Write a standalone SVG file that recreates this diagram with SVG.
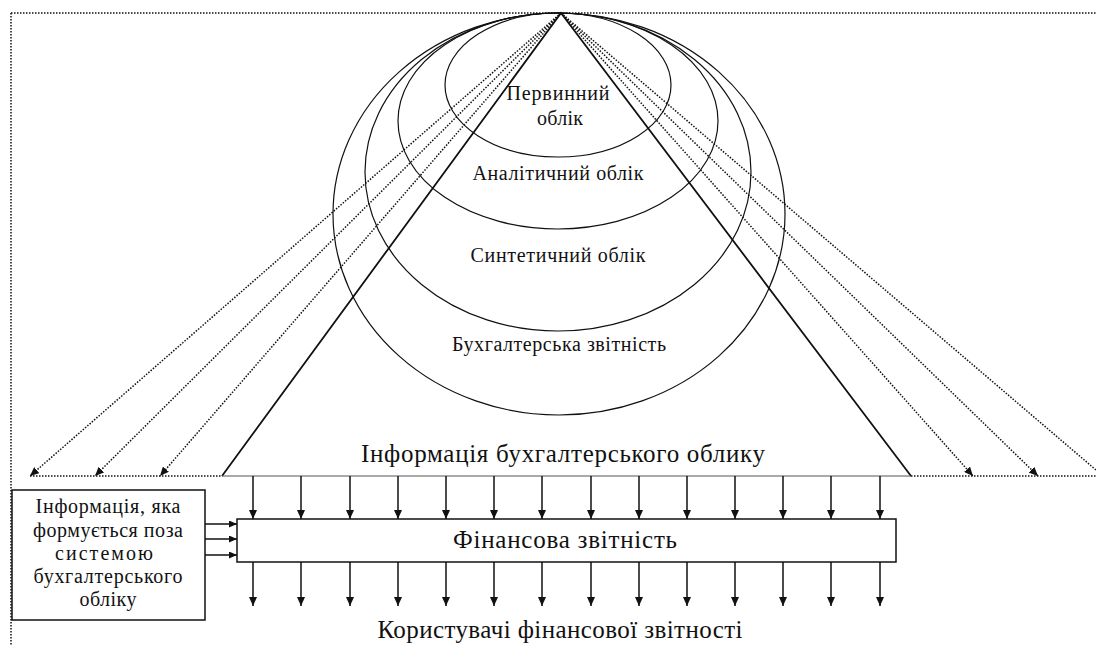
<svg xmlns="http://www.w3.org/2000/svg" width="1096" height="646" viewBox="0 0 1096 646">
<style>
text{font-family:"Liberation Serif","Times New Roman",serif;fill:#111;text-anchor:middle}
.dot{fill:none;stroke:#111;stroke-width:1.5;stroke-dasharray:1.5 1.5}
.sol{fill:none;stroke:#111;stroke-width:1.3}
.ell{fill:none;stroke:#111;stroke-width:1.2}
.ar{fill:none;stroke:#111;stroke-width:1.5}
</style>
<defs>
<marker id="ah" markerUnits="userSpaceOnUse" markerWidth="10" markerHeight="8" refX="9" refY="4" orient="auto" viewBox="0 0 10 8">
<path d="M0,0 L9,4 L0,8 z" fill="#111"/>
</marker>
<marker id="ahs" markerUnits="userSpaceOnUse" markerWidth="9" markerHeight="7" refX="8" refY="3.5" orient="auto" viewBox="0 0 9 7">
<path d="M0,0 L8,3.5 L0,7 z" fill="#111"/>
</marker>
</defs>
<rect width="1096" height="646" fill="#fff"/>
<g id="frame">
<path class="dot" d="M11,13 H1096 M11,13 V646"/>
</g>
<g id="ellipses">
<ellipse id="e4" class="ell" cx="559" cy="214" rx="226" ry="201"/>
<ellipse id="e3" class="ell" cx="558" cy="172" rx="193" ry="159"/>
<ellipse id="e2" class="ell" cx="558" cy="121" rx="160" ry="108"/>
<ellipse id="e1" class="ell" cx="558" cy="85" rx="113" ry="72"/>
</g>
<g id="connectors">
<path class="sol" style="stroke-width:1.8" d="M222,476 L561,13 L911,476"/>
<path class="sol" style="stroke:#555;stroke-width:1.2" d="M222,476 H911"/>
<path class="dot" d="M30,476 H222 M911,476 H1096"/>
<path class="dot" marker-end="url(#ah)" d="M561,13 L30,476"/>
<path class="dot" marker-end="url(#ah)" d="M561,13 L95,476"/>
<path class="dot" marker-end="url(#ah)" d="M561,13 L160,476"/>
<path class="dot" marker-end="url(#ah)" d="M561,13 L973,476"/>
<path class="dot" marker-end="url(#ah)" d="M561,13 L1038,476"/>
<path class="dot" d="M561,13 L1103,476"/>
<g id="down-top" class="ar">
<path marker-end="url(#ah)" d="M253,476 V519"/>
<path marker-end="url(#ah)" d="M301,476 V519"/>
<path marker-end="url(#ah)" d="M350,476 V519"/>
<path marker-end="url(#ah)" d="M398,476 V519"/>
<path marker-end="url(#ah)" d="M446,476 V519"/>
<path marker-end="url(#ah)" d="M494,476 V519"/>
<path marker-end="url(#ah)" d="M542,476 V519"/>
<path marker-end="url(#ah)" d="M591,476 V519"/>
<path marker-end="url(#ah)" d="M639,476 V519"/>
<path marker-end="url(#ah)" d="M687,476 V519"/>
<path marker-end="url(#ah)" d="M735,476 V519"/>
<path marker-end="url(#ah)" d="M783,476 V519"/>
<path marker-end="url(#ah)" d="M831,476 V519"/>
<path marker-end="url(#ah)" d="M880,476 V519"/>
</g>
<g id="down-bottom" class="ar">
<path marker-end="url(#ah)" d="M253,562 V606"/>
<path marker-end="url(#ah)" d="M301,562 V606"/>
<path marker-end="url(#ah)" d="M350,562 V606"/>
<path marker-end="url(#ah)" d="M398,562 V606"/>
<path marker-end="url(#ah)" d="M446,562 V606"/>
<path marker-end="url(#ah)" d="M494,562 V606"/>
<path marker-end="url(#ah)" d="M542,562 V606"/>
<path marker-end="url(#ah)" d="M591,562 V606"/>
<path marker-end="url(#ah)" d="M639,562 V606"/>
<path marker-end="url(#ah)" d="M687,562 V606"/>
<path marker-end="url(#ah)" d="M735,562 V606"/>
<path marker-end="url(#ah)" d="M783,562 V606"/>
<path marker-end="url(#ah)" d="M831,562 V606"/>
<path marker-end="url(#ah)" d="M880,562 V606"/>
</g>
<g id="side" class="ar">
<path marker-end="url(#ahs)" d="M205,524 H237"/>
<path marker-end="url(#ahs)" d="M205,539 H237"/>
<path marker-end="url(#ahs)" d="M205,555 H237"/>
</g>
</g>
<g id="labels-ellipses">
<text x="558" y="100" font-size="20" textLength="103" lengthAdjust="spacing">Первинний</text>
<text x="560" y="125" font-size="20" textLength="46" lengthAdjust="spacing">облік</text>
<text x="558" y="180" font-size="20" textLength="171" lengthAdjust="spacing">Аналітичний облік</text>
<text x="558" y="262" font-size="20" textLength="175" lengthAdjust="spacing">Синтетичний облік</text>
<text x="559" y="351" font-size="20" textLength="214" lengthAdjust="spacing">Бухгалтерська звітність</text>
</g>
<g id="info">
<text x="563" y="462" font-size="25" textLength="404" lengthAdjust="spacing">Інформація бухгалтерського облику</text>
</g>
<g id="fin">
<rect x="237" y="519" width="659" height="43" fill="#fff" stroke="#111" stroke-width="1.5"/>
<text x="565" y="548" font-size="25" textLength="224" lengthAdjust="spacing">Фінансова звітність</text>
</g>
<g id="outside">
<rect x="12" y="490" width="193" height="130" fill="#fff" stroke="#111" stroke-width="1.5"/>
<text x="108" y="513" font-size="20" textLength="145" lengthAdjust="spacing">Інформація, яка</text>
<text x="108" y="537" font-size="20" textLength="150" lengthAdjust="spacing">формується поза</text>
<text x="104" y="560" font-size="20" textLength="98" lengthAdjust="spacing">системою</text>
<text x="108" y="583" font-size="20" textLength="149" lengthAdjust="spacing">бухгалтерського</text>
<text x="108" y="606" font-size="20" textLength="57" lengthAdjust="spacing">обліку</text>
</g>
<g id="users">
<text x="560" y="638" font-size="25" textLength="365" lengthAdjust="spacing">Користувачі фінансової звітності</text>
</g>
</svg>
